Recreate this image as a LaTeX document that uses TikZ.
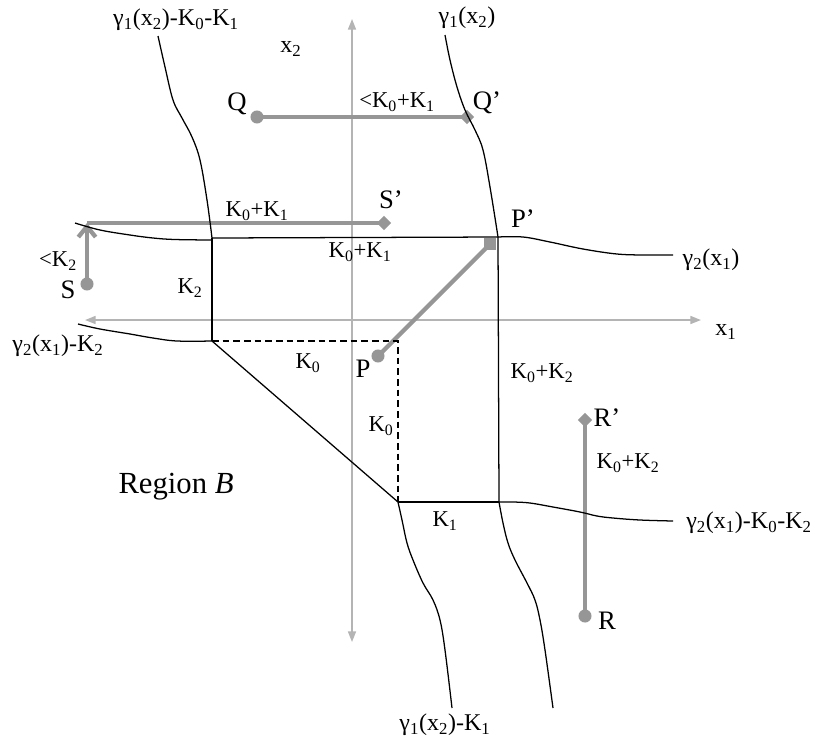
\documentclass[tikz,border=0pt]{standalone}
\usepackage{fontspec}
\setmainfont{Liberation Serif}
\usetikzlibrary{arrows.meta,shapes.geometric}
\definecolor{mk}{RGB}{150,150,150}
\definecolor{axc}{RGB}{180,180,180}
\newcommand\sbs[1]{\textsubscript{#1}}
\begin{document}
\begin{tikzpicture}[x=0.75pt,y=-0.75pt,
  lbl/.style={inner sep=0pt, font=\fontsize{17}{20}\selectfont},
  glbl/.style={inner sep=0pt, font=\fontsize{18}{22}\selectfont},
  big/.style={inner sep=0pt, font=\fontsize{20}{24}\selectfont},
  reg/.style={inner sep=0pt, font=\fontsize{23}{27}\selectfont},
  curve/.style={black, line width=0.95pt},
  axisline/.style={axc, line width=1.2pt, {Triangle[length=8pt,width=6pt]}-{Triangle[length=8pt,width=6pt]}},
  gline/.style={mk, line width=3.2pt},
  dotm/.style={circle, fill=mk, inner sep=0pt, minimum size=9.8pt},
  diam/.style={diamond, fill=mk, inner sep=0pt, minimum size=11pt},
  sqm/.style={rectangle, fill=mk, inner sep=0pt, minimum size=9.5pt}
]
\useasboundingbox (0,0) rectangle (816,744);

% axes
\coordinate (axL) at (85,320);
\coordinate (axR) at (701,320);
\coordinate (axT) at (352,19);
\coordinate (axB) at (352,642);
\draw[axisline] (axL) -- (axR);
\draw[axisline] (axB) -- (axT);

% gray markers
\node[dotm] (Q) at (257,117) {};
\node[diam] (Qp) at (467,117) {};
\draw[gline] (Q.center) -- (Qp.center);

\node[dotm] (S) at (87,284) {};
\coordinate (Stop) at (87,223);
\node[diam] (Sp) at (384,223) {};
\draw[gline] (Stop) -- (Sp.center);
\draw[gline, -{Straight Barb[length=8pt,width=13pt]}] (S.center) -- (Stop);

\node[dotm] (P) at (378,356) {};
\node[sqm] (Pp) at (490,244) {};
\draw[gline] (P.center) -- (Pp.center);

\node[dotm] (R) at (585,616) {};
\node[diam] (Rp) at (585,420) {};
\draw[gline] (R.center) -- (Rp.center);

% corners
\coordinate (TL) at (212,238);
\coordinate (TR) at (498,237);
\coordinate (BL) at (212,341);
\coordinate (DC) at (398,341);
\coordinate (BB) at (398,502);
\coordinate (BR) at (499,502);

% region boundary
\draw[curve] (TL) -- (TR);
\draw[curve] (TL) -- (BL);
\draw[curve] (TR) -- (BR);
\draw[curve] (BB) -- (BR);
\draw[curve] (BL) -- (BB);
\draw[curve, dashed, dash pattern=on 5pt off 3pt] (BL) -- (DC) -- (BB);

% curves
\draw[curve] plot[smooth, tension=0.6] coordinates {(445,35) (450,60) (457,87) (465,110) (475,130) (483,150) (490,187) (498,237)};
\draw[curve] plot[smooth, tension=0.6] coordinates {(158,36) (165,67) (173,100) (182,118) (192,137) (200,160) (207,200) (212,238)};
\draw[curve] plot[smooth, tension=0.6] coordinates {(398,502) (402,520) (407,543) (413,560) (423,583) (433,600) (440,620) (445,650) (452,708)};
\draw[curve] plot[smooth, tension=0.6] coordinates {(499,502) (503,523) (508,543) (515,560) (527,583) (535,600) (540,620) (545,650) (553,708)};
\draw[curve] plot[smooth, tension=0.6] coordinates {(75,223) (100,230) (130,235) (153,238) (175,239.5) (212,240)};
\draw[curve] plot[smooth, tension=0.6] coordinates {(78,324) (100,329) (130,334) (153,338) (177,341) (212,341)};
\draw[curve] plot[smooth, tension=0.6] coordinates {(498,237) (523,237) (550,242) (583,249) (617,254) (645,255) (673,255)};
\draw[curve] plot[smooth, tension=0.6] coordinates {(499,502) (513,502) (530,503) (553,507) (580,512) (597,516) (613,518) (640,520) (673,521)};

% labels
\node[glbl] (l1) at (176,20) {γ\sbs{1}(x\sbs{2})-K\sbs{0}-K\sbs{1}};
\node[glbl] (l2) at (467,18) {γ\sbs{1}(x\sbs{2})};
\node[glbl] (lx2) at (291,49) {x\sbs{2}};
\node[glbl] (lx1) at (726,332) {x\sbs{1}};
\node[big] (lQ) at (237,104) {Q};
\node[big] (lQp) at (487,103) {Q’};
\node[lbl] (lQQ) at (397,102) {<K\sbs{0}+K\sbs{1}};
\node[big] (lSp) at (391,200) {S’};
\node[lbl] (lSS) at (257,211) {K\sbs{0}+K\sbs{1}};
\node[lbl] (lTop) at (360,252) {K\sbs{0}+K\sbs{1}};
\node[big] (lPp) at (523,219) {P’};
\node[glbl] (lg2) at (711,260) {γ\sbs{2}(x\sbs{1})};
\node[lbl] (lK2s) at (58,261) {<K\sbs{2}};
\node[big] (lS) at (68,290) {S};
\node[lbl] (lK2) at (190,288) {K\sbs{2}};
\node[glbl] (lg2k) at (58,346) {γ\sbs{2}(x\sbs{1})-K\sbs{2}};
\node[lbl] (lK0a) at (308,363) {K\sbs{0}};
\node[big] (lP) at (363,369) {P};
\node[lbl] (lK02a) at (542,373) {K\sbs{0}+K\sbs{2}};
\node[lbl] (lK0b) at (381,426) {K\sbs{0}};
\node[big] (lRp) at (607,418) {R’};
\node[lbl] (lK02b) at (628,463) {K\sbs{0}+K\sbs{2}};
\node[reg] (lReg) at (176,487) {Region \textit{B}};
\node[lbl] (lK1) at (445,521) {K\sbs{1}};
\node[glbl] (lg2kk) at (749,523) {γ\sbs{2}(x\sbs{1})-K\sbs{0}-K\sbs{2}};
\node[big] (lR) at (607,621) {R};
\node[glbl] (lg1k) at (445,725) {γ\sbs{1}(x\sbs{2})-K\sbs{1}};
\end{tikzpicture}
\end{document}
